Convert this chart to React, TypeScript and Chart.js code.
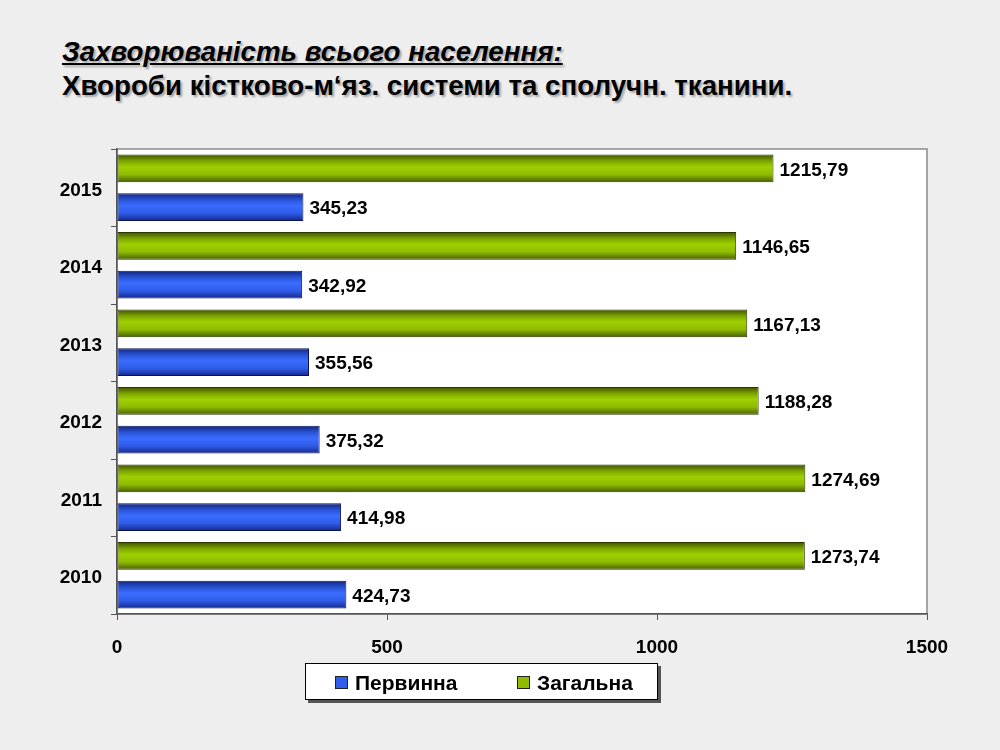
import React, { useEffect, useRef } from "react";
import { Chart, registerables } from "chart.js";

Chart.register(...registerables);

const years = ["2015", "2014", "2013", "2012", "2011", "2010"];
const zagalna = [1215.79, 1146.65, 1167.13, 1188.28, 1274.69, 1273.74];
const pervynna = [345.23, 342.92, 355.56, 375.32, 414.98, 424.73];
const xTicks = [0, 500, 1000, 1500];
const titleLine1 = "Захворюваність всього населення:";
const titleLine2 = "Хвороби кістково-м‘яз. системи та сполучн. тканини.";
const seriesNames = ["Первинна", "Загальна"];

const FONT = "'Liberation Sans', Arial, sans-serif";

const palettes = [
  // Загальна (green)
  ["#3d4f00", "#7fa800", "#9fd000", "#8fbb00", "#465c00"],
  // Первинна (blue)
  ["#12237a", "#2a55d8", "#3a6cff", "#2f5ce8", "#14268a"],
];

function barGradient(c: any) {
  const chart = c.chart;
  const p = palettes[c.datasetIndex] || palettes[0];
  const ys = chart.scales?.y;
  if (!ys || c.dataIndex === undefined) return p[2];
  const center = ys.getPixelForValue(c.dataIndex);
  const half = ys.height / years.length / 2;
  if (!isFinite(center) || !isFinite(half) || half <= 0) return p[2];
  const barC = c.datasetIndex === 0 ? center - half / 2 : center + half / 2;
  const h = 14;
  const g = chart.ctx.createLinearGradient(0, barC - h, 0, barC + h);
  g.addColorStop(0, p[0]);
  g.addColorStop(0.25, p[1]);
  g.addColorStop(0.45, p[2]);
  g.addColorStop(0.72, p[3]);
  g.addColorStop(1, p[4]);
  return g;
}

const bgPlugin = {
  id: "bgPlugin",
  beforeDraw(chart: any) {
    const { ctx, chartArea: a } = chart;
    ctx.save();
    ctx.fillStyle = "#ffffff";
    ctx.fillRect(a.left, a.top, a.right - a.left, a.bottom - a.top);
    ctx.strokeStyle = "#8a8a8a";
    ctx.lineWidth = 1.5;
    ctx.strokeRect(a.left, a.top, a.right - a.left, a.bottom - a.top);
    ctx.restore();
  },
};

const labelPlugin = {
  id: "labelPlugin",
  afterDatasetsDraw(chart: any) {
    const ctx = chart.ctx;
    ctx.save();
    ctx.font = `bold 19px ${FONT}`;
    ctx.fillStyle = "#000000";
    ctx.textAlign = "left";
    ctx.textBaseline = "middle";
    chart.data.datasets.forEach((ds: any, di: number) => {
      const meta = chart.getDatasetMeta(di);
      meta.data.forEach((el: any, i: number) => {
        const v = ds.data[i] as number;
        ctx.fillText(v.toFixed(2).replace(".", ","), el.x + 6, el.y + 2);
      });
    });
    ctx.restore();
  },
};

export default function App() {
  const ref = useRef<HTMLCanvasElement | null>(null);

  useEffect(() => {
    if (!ref.current) return;
    const chart = new Chart(ref.current, {
      type: "bar",
      data: {
        labels: years,
        datasets: [
          {
            label: seriesNames[1],
            data: zagalna,
            backgroundColor: barGradient as any,
            borderColor: "#2a3500",
            borderWidth: 1,
            borderSkipped: false,
            categoryPercentage: 1.0,
            barPercentage: 0.72,
          },
          {
            label: seriesNames[0],
            data: pervynna,
            backgroundColor: barGradient as any,
            borderColor: "#0a1450",
            borderWidth: 1,
            borderSkipped: false,
            categoryPercentage: 1.0,
            barPercentage: 0.72,
          },
        ],
      },
      options: {
        indexAxis: "y",
        animation: false,
        responsive: false,
        maintainAspectRatio: false,
        layout: { padding: { left: 0, top: 149, right: 73, bottom: 86 } },
        plugins: {
          legend: { display: false },
          tooltip: { enabled: false },
          title: { display: false },
        },
        scales: {
          x: {
            min: 0,
            max: 1500,
            afterBuildTicks: (s: any) => {
              s.ticks = xTicks.map((v) => ({ value: v }));
            },
            afterFit: (s: any) => {
              s.height = 50;
            },
            grid: {
              display: true,
              drawOnChartArea: false,
              drawTicks: true,
              tickLength: 6,
              color: "#555555",
            },
            border: { display: true, color: "#555555", width: 1.5 },
            ticks: {
              font: { family: FONT, size: 19, weight: "bold" },
              color: "#000000",
              padding: 16,
              callback: (v: any) => String(v),
            },
          },
          y: {
            afterFit: (s: any) => {
              s.width = 117;
            },
            grid: {
              display: true,
              drawOnChartArea: false,
              drawTicks: true,
              tickLength: 6,
              offset: true,
              color: "#555555",
            },
            border: { display: true, color: "#555555", width: 1.5 },
            ticks: {
              font: { family: FONT, size: 19, weight: "bold" },
              color: "#000000",
              padding: 9,
              labelOffset: 3,
            },
          },
        },
      },
      plugins: [bgPlugin, labelPlugin],
    });
    return () => chart.destroy();
  }, []);

  const titleStyle: React.CSSProperties = {
    position: "absolute",
    left: 62,
    margin: 0,
    fontFamily: FONT,
    fontWeight: "bold",
    fontSize: 27.7,
    color: "#000",
    whiteSpace: "nowrap",
    textShadow: "2px 2px 2px rgba(0,0,0,0.3)",
    lineHeight: "30px",
  };

  const swatch = (color: string): React.CSSProperties => ({
    display: "inline-block",
    width: 11,
    height: 11,
    background: color,
    border: "1px solid #222",
    marginRight: 7,
    verticalAlign: "middle",
    position: "relative",
    top: -2,
  });

  return (
    <div
      style={{
        position: "fixed",
        left: 0,
        top: 0,
        width: 1000,
        height: 750,
        background: "#eeeeee",
        overflow: "hidden",
      }}
    >
      <div style={{ ...titleStyle, top: 37, fontStyle: "italic", textDecoration: "underline" }}>
        {titleLine1}
      </div>
      <div style={{ ...titleStyle, top: 71 }}>{titleLine2}</div>
      <canvas ref={ref} width={1000} height={750} style={{ position: "absolute", left: 0, top: 0 }} />
      <div
        style={{
          position: "absolute",
          left: 305,
          top: 663,
          width: 351,
          height: 35,
          background: "#ffffff",
          border: "1px solid #000",
          boxShadow: "3px 3px 0 #555",
          fontFamily: FONT,
          fontWeight: "bold",
          fontSize: 21,
          lineHeight: "37px",
          whiteSpace: "nowrap",
        }}
      >
        <span style={{ position: "absolute", left: 29 }}>
          <span style={swatch("#2f5ce8")} />
          {seriesNames[0]}
        </span>
        <span style={{ position: "absolute", left: 211 }}>
          <span style={swatch("#8fbb00")} />
          {seriesNames[1]}
        </span>
      </div>
    </div>
  );
}
